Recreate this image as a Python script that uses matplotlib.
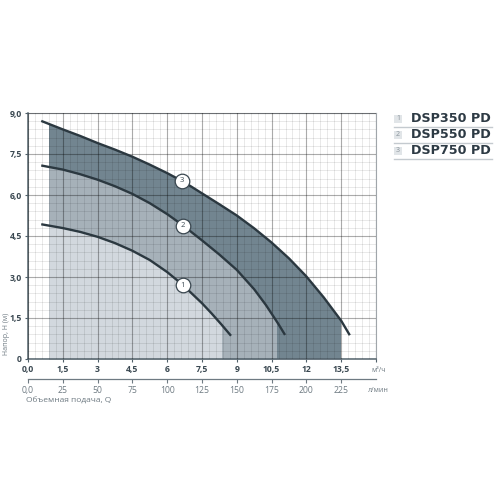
import matplotlib
matplotlib.use("Agg")
import matplotlib.pyplot as plt
from matplotlib.patches import Rectangle
from matplotlib.ticker import MultipleLocator

plt.rcParams['font.family'] = ['Open Sans', 'DejaVu Sans']

# ---- data ----
q1 = [0.57, 1.5, 2.25, 3.0, 3.75, 4.5, 5.25, 6.0, 6.66, 7.5, 7.9, 8.35, 8.75]
h1 = [4.93, 4.79, 4.65, 4.47, 4.24, 3.96, 3.62, 3.18, 2.72, 2.04, 1.68, 1.25, 0.85]
q2 = [0.57, 1.5, 2.25, 3.0, 3.75, 4.5, 5.25, 6.0, 6.66, 7.5, 8.25, 9.0, 9.75, 10.25,
      10.5, 10.8, 11.08]
h2 = [7.08, 6.93, 6.76, 6.56, 6.32, 6.04, 5.70, 5.30, 4.90, 4.34, 3.82, 3.26, 2.55, 1.98,
      1.66, 1.27, 0.88]
q3 = [0.57, 1.5, 2.25, 3.0, 3.75, 4.5, 5.25, 6.0, 6.75, 7.5, 8.25, 9.0, 9.75, 10.5,
      11.25, 12.0, 12.75, 13.5, 13.87]
h3 = [8.71, 8.40, 8.16, 7.90, 7.66, 7.40, 7.11, 6.80, 6.46, 6.06, 5.66, 5.25, 4.78, 4.26,
      3.68, 3.02, 2.25, 1.40, 0.87]
region_start = 0.9
region_ends = [8.34, 10.7, 13.45]
label_pos_q = [6.66, 6.66, 6.63]
label_pos_h = [2.70, 4.87, 6.52]
models = ["DSP350 PD", "DSP550 PD", "DSP750 PD"]
x_ticks = [0, 1.5, 3, 4.5, 6, 7.5, 9, 10.5, 12, 13.5]
x_tick_labels = ["0,0", "1,5", "3", "4,5", "6", "7,5", "9", "10,5", "12", "13,5"]
y_ticks = [0, 1.5, 3, 4.5, 6, 7.5, 9]
y_tick_labels = ["0", "1,5", "3,0", "4,5", "6,0", "7,5", "9,0"]
lpm_ticks = [0, 25, 50, 75, 100, 125, 150, 175, 200, 225]
lpm_labels = ["0,0", "25", "50", "75", "100", "125", "150", "175", "200", "225"]

fill_colors = ["#d2d8de", "#a6b1b9", "#728590"]
line_color = "#2b3840"
dark_txt = "#3a4851"
grey_txt = "#6e7a82"

W = H = 500
fig = plt.figure(figsize=(5, 5), dpi=100)
ax = fig.add_axes([28 / W, 1 - 359 / H, (376 - 28) / W, (359 - 113) / H])
ax.set_xlim(0, 15)
ax.set_ylim(0, 9)

curves = [(q1, h1), (q2, h2), (q3, h3)]
for i in [2, 1, 0]:
    q, h = curves[i]
    poly = ax.fill_between(q, 0, h, color=fill_colors[i], lw=0, zorder=1)
    clip = Rectangle((region_start, 0), region_ends[i] - region_start, 10,
                     transform=ax.transData)
    poly.set_clip_path(clip)

ax.xaxis.set_minor_locator(MultipleLocator(0.3))
ax.yaxis.set_minor_locator(MultipleLocator(0.3))
ax.grid(which='minor', color='black', alpha=0.10, lw=0.6, zorder=2)
ax.grid(which='major', color='black', alpha=0.33, lw=0.8, zorder=2)
ax.set_axisbelow(False)

for q, h in curves:
    ax.plot(q, h, color=line_color, lw=1.7, zorder=4, solid_capstyle='butt',
            solid_joinstyle='round')

for i in range(3):
    ax.plot(label_pos_q[i], label_pos_h[i], 'o', ms=10.5, mfc='white',
            mec='#3a4750', mew=0.9, zorder=5)
    ax.text(label_pos_q[i], label_pos_h[i], str(i + 1), ha='center', va='center',
            fontsize=5.5, color=dark_txt, zorder=6)

ax.set_xticks(x_ticks + [15])
ax.set_xticklabels(x_tick_labels + [""])
ax.set_yticks(y_ticks)
ax.set_yticklabels(y_tick_labels)
ax.tick_params(which='major', length=2.5, width=0.8, color='#50606a', labelsize=6.2,
               labelcolor=dark_txt, pad=2)
ax.tick_params(which='minor', length=0)
for lab in ax.get_xticklabels() + ax.get_yticklabels():
    lab.set_fontweight('bold')

for s in ['left', 'bottom']:
    ax.spines[s].set_color('#55646d')
    ax.spines[s].set_linewidth(1.1)
for s in ['top', 'right']:
    ax.spines[s].set_color('#a0a5aa')
    ax.spines[s].set_linewidth(0.8)

sec = ax.secondary_xaxis(-20 / 246, functions=(lambda x: x * 1000 / 60,
                                                lambda x: x * 60 / 1000))
sec.set_xticks(lpm_ticks)
sec.set_xticklabels(lpm_labels)
sec.tick_params(length=3, width=0.8, color='#6e7a82', labelsize=6.2,
                labelcolor=grey_txt, pad=2)
sec.spines['bottom'].set_color('#6e7a82')
sec.spines['bottom'].set_linewidth(0.9)

fig.text(371 / W, 1 - 371 / H, "м³/ч", fontsize=5, color=grey_txt, va='center')
fig.text(368 / W, 1 - 390 / H, "л/мин", fontsize=5, color=grey_txt, va='center')
fig.text(26 / W, 1 - 401 / H, "Объемная подача, Q", fontsize=6, color=grey_txt, va='center')
fig.text(6.5 / W, 1 - 334 / H, "Напор, Н (м)", fontsize=5, color=grey_txt,
         rotation=90, ha='center', va='center')

rows_y = [119, 135, 151]
for i, m in enumerate(models):
    y = rows_y[i]
    fig.patches.append(Rectangle((394 / W, 1 - (y + 4) / H), 8 / W, 8 / H,
                                 transform=fig.transFigure, color='#e1e5e8', lw=0))
    fig.text(398 / W, 1 - y / H, str(i + 1), fontsize=5, color='#8a949b',
             ha='center', va='center')
    fig.text(411 / W, 1 - y / H, m, fontsize=9.2, fontweight='bold', color='#2d3a44',
             va='center', family='DejaVu Sans')
    fig.add_artist(plt.Line2D([394 / W, 492 / W], [1 - (y + 8) / H, 1 - (y + 8) / H],
                              color='#c4cacf', lw=1.0, transform=fig.transFigure))

fig.savefig("out.png", dpi=100, facecolor='white')
